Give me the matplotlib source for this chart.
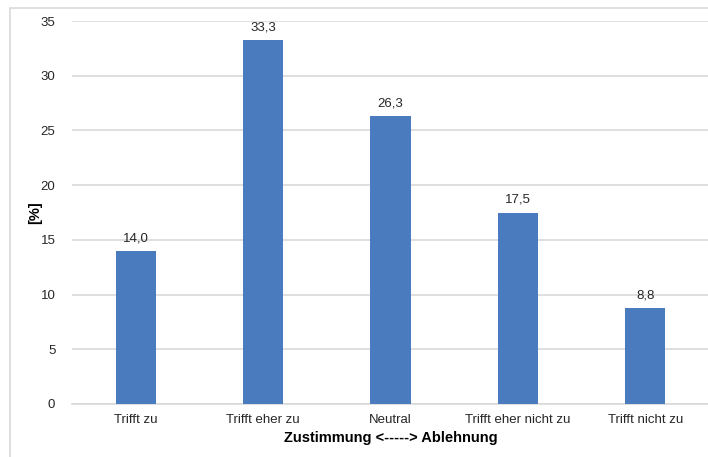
import matplotlib
matplotlib.use("Agg")
import matplotlib.pyplot as plt
from matplotlib.patches import Rectangle

categories = ["Trifft zu", "Trifft eher zu", "Neutral", "Trifft eher nicht zu", "Trifft nicht zu"]
values = [14.0, 33.3, 26.3, 17.5, 8.8]
yticks = [0, 5, 10, 15, 20, 25, 30, 35]

plt.rcParams['font.family'] = ['Liberation Sans', 'DejaVu Sans']

W, H = 708, 457
fig = plt.figure(figsize=(W/100, H/100), dpi=100)
ax = fig.add_axes([72/W, 1-404/H, (709-72)/W, (404-21)/H])

# outer border
fig.patches.append(Rectangle((10/W, -0.1), 1.0, 1 - 8/H + 0.1, transform=fig.transFigure,
                             fill=False, edgecolor="#d9d9d9", linewidth=1.2, zorder=0))

x = list(range(len(categories)))
bars = ax.bar(x, values, width=0.315, color="#4a7bbf", zorder=3)
for xi, v in zip(x, values):
    ax.text(xi, v + 0.6, f"{v:.1f}".replace(".", ","), ha="center", va="bottom",
            fontsize=9.5, color="#262626")

ax.set_xlim(-0.5, len(categories) - 0.5)
ax.set_ylim(0, 35)
ax.set_yticks(yticks)
ax.set_xticks(x)
ax.set_xticklabels(categories, fontsize=9.5, color="#262626")
ax.tick_params(axis="y", labelsize=9.5, labelcolor="#262626", length=0, pad=12)
ax.tick_params(axis="x", length=0, pad=7)
ax.yaxis.grid(True, color="#d9d9d9", linewidth=1.2, zorder=0)
for s in ["top", "right", "left"]:
    ax.spines[s].set_visible(False)
ax.spines["bottom"].set_color("#d9d9d9")
ax.spines["bottom"].set_linewidth(1.2)

ax.set_xlabel("Zustimmung <-----> Ablehnung", fontsize=10.5, fontweight="bold",
              color="#000000", labelpad=4)
ax.set_ylabel("[%]", fontsize=10.5, fontweight="bold", color="#000000")
ax.yaxis.set_label_coords((42 - 72) / 637, 0.5)

fig.savefig("out.png", dpi=100, facecolor="white")
